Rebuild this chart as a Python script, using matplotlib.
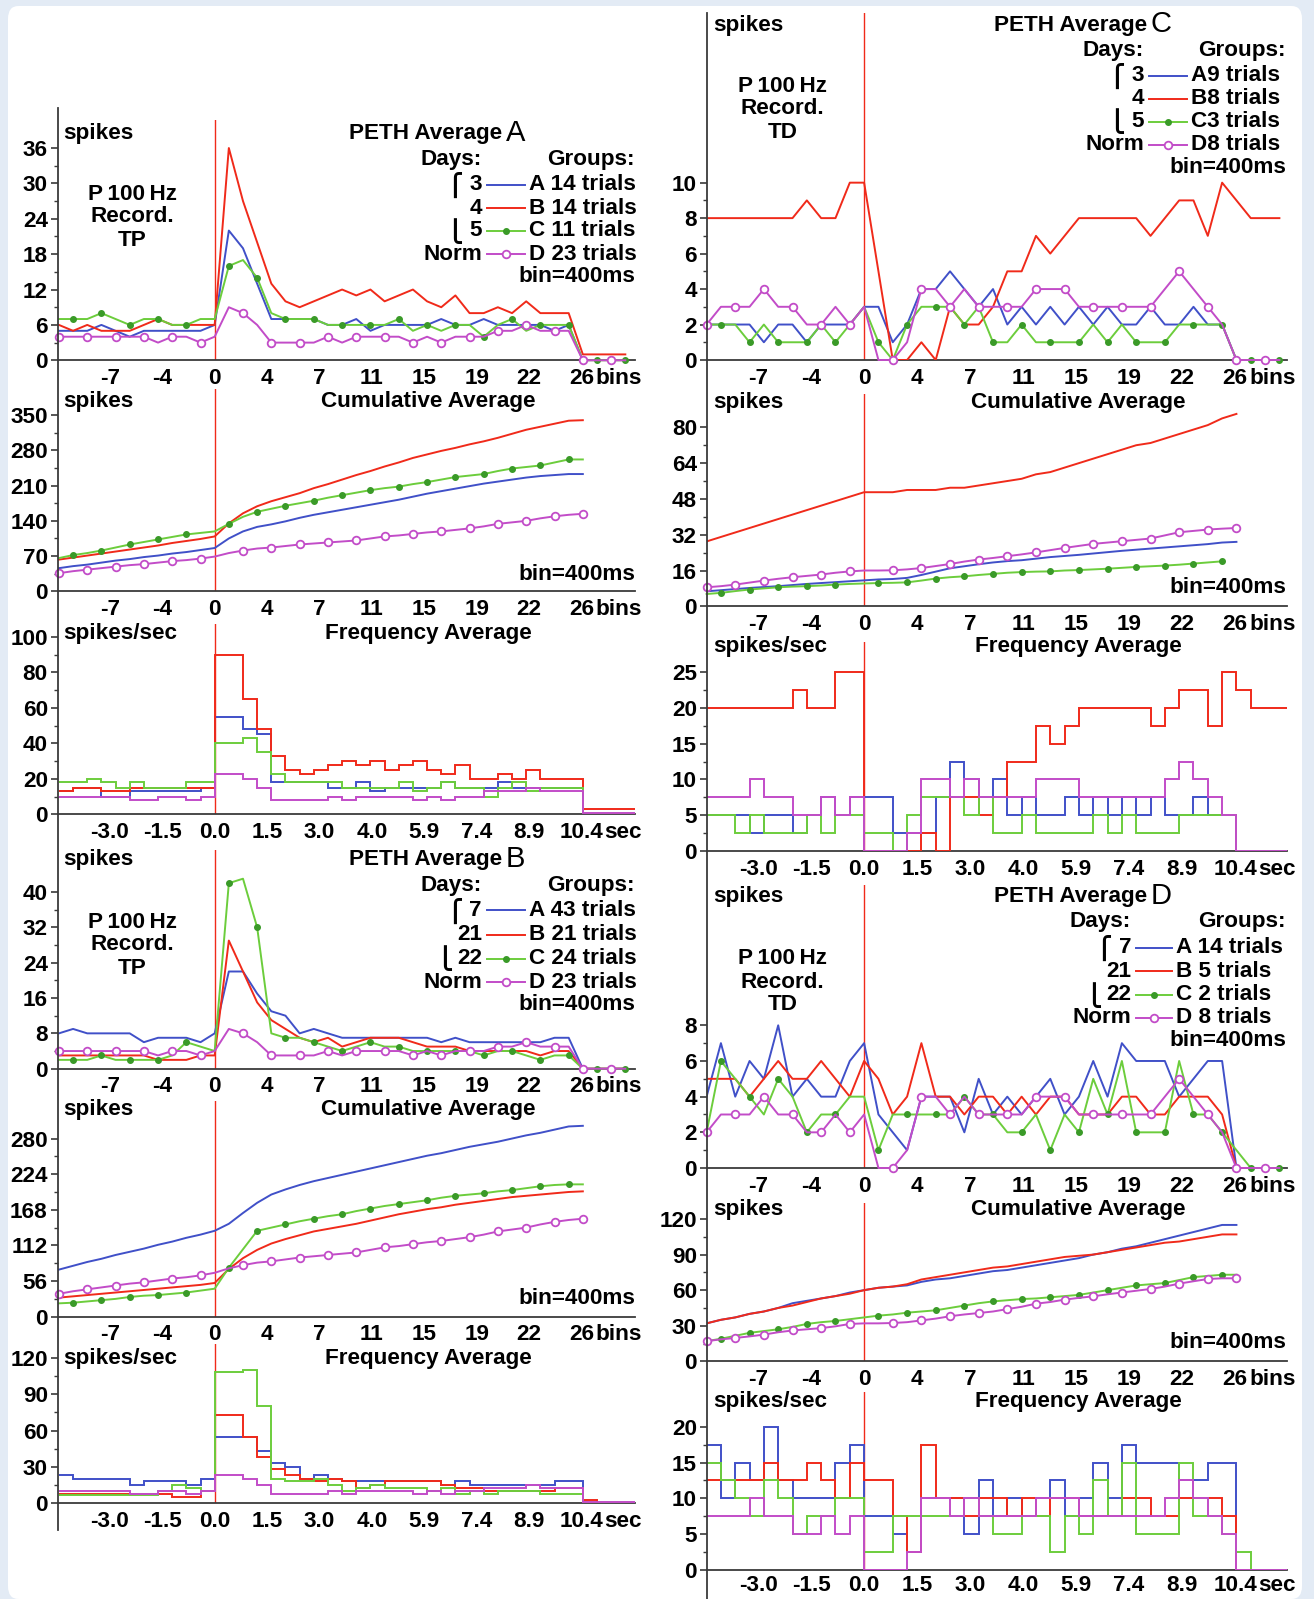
import numpy as np
import matplotlib
matplotlib.use("Agg")
import matplotlib.pyplot as plt
from matplotlib.lines import Line2D
from matplotlib.patches import FancyBboxPatch

W, H = 1314, 1599
plt.rcParams['font.family'] = ['Liberation Sans', 'DejaVu Sans']
plt.rcParams['font.weight'] = 'bold'
plt.rcParams['font.size'] = 16.2

BLUE, RED, GREEN, MAG = '#4050c8', '#f02a1a', '#6ccd3c', '#c24cc8'
GREEN_DOT = '#3a9a28'
AXC = '#3a3a3a'
LW = 1.4

# ---------------- data ----------------
peth_bins = np.arange(-11, 30)     # 41 bins of 400 ms
cum_bins = np.arange(-11, 27)
freq_edges = np.arange(-11, 31)

tick_pos = [-7.4, -3.7, 0, 3.7, 7.4, 11.1, 14.8, 18.5, 22.2, 25.9]
bin_labels = ['-7', '-4', '0', '4', '7', '11', '15', '19', '22', '26']
sec_labels = ['-3.0', '-1.5', '0.0', '1.5', '3.0', '4.0', '5.9', '7.4', '8.9', '10.4']

# PETH A
a_peth_blue = [5, 5, 5, 6, 5, 4, 5, 5, 5, 5, 5, 6, 22, 19, 13, 7, 7, 7, 7, 6, 6, 7, 5, 6, 6, 6, 6, 7, 6, 6, 7, 6, 6, 6, 6, 5, 6, 0, 0, 0, 0]
a_peth_red = [6, 5, 6, 5, 5, 5, 6, 7, 6, 6, 6, 6, 36, 27, 20, 13, 10, 9, 10, 11, 12, 11, 12, 10, 11, 12, 10, 9, 11, 8, 8, 9, 8, 10, 8, 8, 8, 1, 1, 1, 1]
a_peth_green = [7, 7, 7, 8, 7, 6, 7, 7, 6, 6, 7, 7, 16, 17, 14, 8, 7, 7, 7, 6, 6, 6, 6, 6, 7, 5, 6, 5, 6, 6, 4, 6, 7, 5, 6, 6, 6, 0, 0, 0, 0]
ab_peth_norm = [4, 4, 4, 4, 4, 4, 4, 3, 4, 4, 3, 4, 9, 8, 6, 3, 3, 3, 3, 4, 3, 4, 4, 4, 4, 3, 4, 3, 4, 4, 4, 5, 5, 6, 5, 5, 5, 0, 0, 0, 0]
# PETH B
b_peth_blue = [8, 9, 8, 8, 8, 8, 6, 7, 7, 7, 6, 8, 22, 22, 17, 13, 12, 8, 9, 8, 7, 7, 7, 7, 7, 7, 7, 6, 7, 6, 6, 6, 6, 6, 6, 7, 7, 0, 0, 0, 0]
b_peth_red = [3, 3, 3, 3, 3, 3, 3, 2, 2, 2, 3, 3, 29, 22, 15, 11, 9, 7, 6, 7, 5, 6, 7, 7, 7, 6, 5, 5, 5, 4, 4, 4, 4, 4, 3, 4, 4, 0, 0, 0, 0]
b_peth_green = [2, 2, 2, 3, 2, 2, 2, 2, 3, 6, 5, 4, 42, 43, 32, 8, 7, 7, 6, 5, 4, 5, 6, 5, 5, 4, 4, 4, 4, 4, 3, 4, 4, 3, 2, 3, 3, 0, 0, 0, 0]
# PETH C
c_peth_blue = [2, 2, 2, 2, 1, 2, 2, 1, 2, 2, 2, 3, 3, 1, 2, 4, 4, 5, 4, 3, 4, 2, 3, 2, 3, 2, 3, 2, 3, 2, 2, 3, 2, 2, 3, 2, 2, 0, 0, 0, 0]
c_peth_red = [8, 8, 8, 8, 8, 8, 8, 9, 8, 8, 10, 10, 5, 0, 0, 1, 0, 3, 2, 2, 3, 5, 5, 7, 6, 7, 8, 8, 8, 8, 8, 7, 8, 9, 9, 7, 10, 9, 8, 8, 8]
c_peth_green = [2, 2, 2, 1, 2, 1, 1, 1, 2, 1, 2, 3, 1, 0, 2, 3, 3, 3, 2, 3, 1, 1, 2, 1, 1, 1, 1, 2, 1, 2, 1, 1, 1, 2, 2, 2, 2, 0, 0, 0, 0]
cd_peth_norm = [2, 3, 3, 3, 4, 3, 3, 2, 2, 3, 2, 3, 0, 0, 1, 4, 4, 3, 4, 3, 3, 3, 3, 4, 4, 4, 3, 3, 3, 3, 3, 3, 4, 5, 4, 3, 2, 0, 0, 0, 0]
# PETH D
d_peth_blue = [4, 7, 4, 6, 5, 8, 4, 5, 4, 4, 6, 7, 3, 2, 1, 4, 4, 4, 2, 5, 3, 4, 3, 4, 5, 3, 4, 6, 4, 7, 6, 6, 6, 4, 5, 6, 6, 0, 0, 0, 0]
d_peth_red = [5, 5, 5, 4, 5, 6, 5, 5, 6, 5, 4, 6, 5, 3, 4, 7, 4, 4, 3, 4, 4, 3, 4, 3, 4, 4, 3, 3, 3, 4, 4, 3, 3, 4, 4, 4, 3, 0, 0, 0, 0]
d_peth_green = [2, 6, 5, 4, 3, 5, 4, 2, 3, 3, 4, 4, 1, 3, 3, 3, 3, 3, 4, 3, 3, 2, 2, 3, 1, 3, 2, 5, 3, 6, 2, 2, 2, 6, 3, 3, 2, 1, 0, 0, 0]

# Cumulative A
a_cum_blue = [46, 50, 53, 57, 61, 64, 68, 71, 75, 78, 82, 86, 105, 119, 128, 133, 139, 146, 152, 157, 162, 167, 172, 177, 182, 188, 194, 199, 204, 209, 214, 218, 222, 226, 229, 231, 233, 233]
a_cum_red = [63, 67, 71, 75, 79, 83, 87, 91, 96, 100, 104, 109, 135, 155, 169, 179, 187, 195, 205, 213, 222, 231, 239, 248, 256, 265, 272, 279, 285, 292, 298, 305, 313, 321, 327, 333, 339, 340]
a_cum_green = [66, 72, 76, 81, 87, 93, 98, 103, 108, 113, 116, 119, 134, 148, 158, 164, 170, 175, 180, 186, 191, 196, 201, 205, 208, 213, 217, 222, 227, 230, 233, 239, 244, 247, 250, 256, 262, 262]
ab_cum_norm = [36, 40, 43, 46, 49, 52, 54, 57, 60, 62, 65, 69, 76, 81, 85, 87, 90, 93, 95, 97, 99, 101, 105, 109, 111, 114, 117, 119, 122, 125, 129, 134, 137, 140, 145, 149, 152, 154]
# Cumulative B
b_cum_blue = [74, 80, 86, 91, 97, 102, 107, 113, 118, 124, 129, 135, 146, 163, 179, 192, 200, 207, 213, 218, 223, 228, 233, 238, 243, 248, 253, 257, 262, 267, 271, 275, 280, 285, 289, 294, 299, 300]
b_cum_red = [30, 32, 34, 36, 38, 40, 42, 44, 46, 48, 50, 53, 75, 92, 105, 115, 122, 128, 134, 138, 142, 146, 151, 156, 161, 165, 169, 172, 176, 179, 182, 185, 188, 190, 192, 194, 196, 197]
b_cum_green = [21, 22, 24, 26, 28, 31, 33, 34, 36, 38, 41, 44, 77, 106, 135, 140, 145, 150, 154, 158, 161, 166, 170, 174, 177, 180, 183, 187, 190, 192, 194, 197, 199, 202, 205, 207, 208, 208]
# Cumulative C
c_cum_blue = [6.7, 7.2, 7.7, 8.2, 8.6, 9.0, 9.5, 10, 10.4, 10.8, 11.2, 11.6, 12, 12.2, 12.7, 14, 15.5, 17, 17.9, 18.8, 19.6, 20.2, 20.6, 21.3, 22, 22.5, 23, 23.6, 24.2, 24.8, 25.3, 25.8, 26.3, 26.8, 27.3, 27.8, 28.5, 28.8]
c_cum_red = [29, 31, 33, 35, 37, 39, 41, 43, 45, 47, 49, 51, 51, 51, 52, 52, 52, 53, 53, 54, 55, 56, 57, 59, 60, 62, 64, 66, 68, 70, 72, 73, 75, 77, 79, 81, 84, 86]
c_cum_green = [5.5, 6, 6.8, 7.5, 8, 8.5, 8.8, 9, 9.3, 9.7, 10, 10.2, 10.4, 10.5, 10.7, 11.5, 12.4, 13, 13.4, 14, 14.5, 15, 15.3, 15.5, 15.6, 16, 16.2, 16.5, 16.8, 17.2, 17.6, 17.9, 18.2, 18.6, 19.1, 19.6, 20.1]
c_cum_norm = [8.5, 9, 9.7, 10.6, 11.5, 12.3, 13, 13.6, 14.2, 15, 15.6, 16, 16, 16.1, 16.5, 17.1, 18, 18.9, 20, 20.9, 21.6, 22.4, 23.2, 24.1, 25.1, 26.1, 27, 27.9, 28.5, 29.1, 29.7, 30.3, 31.7, 33.1, 33.7, 34.3, 34.7, 35]
# Cumulative D
d_cum_blue = [32, 35, 37, 40, 42, 45, 49, 51, 53, 55, 58, 60, 62, 63, 64, 67, 69, 70, 72, 74, 76, 77, 79, 81, 83, 85, 87, 90, 92, 95, 97, 100, 103, 106, 109, 112, 115, 115]
d_cum_red = [32, 35, 37, 40, 42, 45, 47, 50, 53, 55, 57, 60, 62, 63, 65, 69, 71, 73, 75, 77, 79, 80, 82, 84, 86, 88, 89, 90, 92, 94, 96, 98, 100, 101, 103, 105, 107, 107]
d_cum_green = [17, 19, 21.5, 24, 25.5, 27, 29, 31.5, 33, 34, 35.5, 37, 38.5, 39.5, 41, 42, 43, 45, 47, 49, 50.5, 51.5, 52.5, 53, 54, 55, 56, 58, 60, 62, 64, 65, 66, 68.5, 71, 72, 73, 73]
d_cum_norm = [17, 18.5, 19.7, 21, 22.5, 24.5, 26, 27, 28, 29.5, 31.5, 32, 32, 32.3, 33, 34.5, 36, 38, 39.5, 40.7, 42, 44, 46, 48.6, 50, 52, 53.5, 54.8, 56.5, 58, 59.5, 61, 63, 65.5, 67.5, 69.4, 70, 70]

# Frequency A (spikes/sec per 400 ms step)
a_freq_blue = [13, 15, 15, 10, 10, 13, 13, 13, 13, 13, 15, 55, 55, 48, 45, 18, 18, 18, 18, 15, 15, 18, 13, 15, 15, 15, 15, 18, 15, 15, 15, 18, 15, 15, 15, 15, 15, 0, 0, 0, 0]
a_freq_red = [13, 15, 15, 13, 13, 15, 15, 15, 15, 15, 15, 90, 90, 65, 48, 33, 25, 23, 25, 28, 30, 28, 30, 25, 28, 30, 25, 23, 28, 20, 20, 23, 20, 25, 20, 20, 20, 3, 3, 3, 3]
a_freq_green = [18, 18, 20, 18, 15, 18, 15, 15, 15, 18, 18, 40, 40, 43, 35, 23, 18, 18, 18, 18, 15, 15, 15, 15, 18, 13, 15, 18, 15, 15, 10, 15, 18, 13, 15, 15, 15, 0, 0, 0, 0]
ab_freq_norm = [10, 10, 10, 10, 10, 8, 8, 10, 10, 8, 10, 23, 23, 20, 15, 8, 8, 8, 8, 10, 8, 10, 10, 10, 10, 8, 10, 8, 10, 10, 13, 13, 13, 15, 13, 13, 13, 1, 1, 1, 1]
# Frequency B
b_freq_blue = [23, 20, 20, 20, 20, 15, 18, 18, 18, 15, 20, 55, 55, 55, 43, 33, 30, 20, 23, 20, 18, 18, 18, 18, 18, 18, 18, 15, 18, 15, 15, 15, 15, 15, 15, 18, 18, 0, 0, 0, 0]
b_freq_red = [8, 8, 8, 8, 8, 8, 8, 8, 5, 5, 10, 73, 73, 55, 38, 28, 23, 20, 18, 20, 18, 13, 15, 18, 18, 18, 18, 15, 13, 13, 10, 10, 10, 10, 10, 13, 13, 3, 0, 0, 0]
b_freq_green = [7, 7, 7, 7, 7, 7, 7, 10, 15, 13, 10, 108, 108, 110, 80, 20, 18, 18, 20, 15, 10, 13, 15, 13, 13, 13, 10, 13, 8, 10, 8, 10, 10, 10, 8, 8, 8, 0, 0, 0, 0]
# Frequency C
c_freq_blue = [5, 5, 5, 2.5, 5, 5, 2.5, 5, 7.5, 5, 7.5, 7.5, 7.5, 2.5, 2.5, 2.5, 7.5, 12.5, 10, 7.5, 10, 5, 7.5, 5, 5, 7.5, 5, 7.5, 5, 7.5, 5, 7.5, 5, 5, 7.5, 5, 5, 0, 0, 0, 0]
c_freq_red = [20, 20, 20, 20, 20, 20, 22.5, 20, 20, 25, 25, 0, 0, 0, 0, 2.5, 0, 7.5, 7.5, 5, 7.5, 12.5, 12.5, 17.5, 15, 17.5, 20, 20, 20, 20, 20, 17.5, 20, 22.5, 22.5, 17.5, 25, 22.5, 20, 20, 20]
c_freq_green = [5, 5, 2.5, 5, 2.5, 2.5, 2.5, 5, 2.5, 5, 5, 2.5, 2.5, 0, 5, 7.5, 7.5, 7.5, 5, 7.5, 2.5, 2.5, 5, 2.5, 2.5, 2.5, 2.5, 5, 2.5, 5, 2.5, 2.5, 2.5, 5, 5, 5, 5, 0, 0, 0, 0]
cd_freq_norm = [7.5, 7.5, 7.5, 10, 7.5, 7.5, 5, 5, 7.5, 5, 7.5, 0, 0, 0, 2.5, 10, 10, 7.5, 10, 7.5, 7.5, 7.5, 7.5, 10, 10, 10, 7.5, 7.5, 7.5, 7.5, 7.5, 7.5, 10, 12.5, 10, 7.5, 5, 0, 0, 0, 0]
# Frequency D
d_freq_blue = [17.5, 10, 15, 12.5, 20, 12.5, 10, 10, 10, 15, 17.5, 7.5, 7.5, 5, 2.5, 10, 10, 10, 5, 12.5, 7.5, 10, 7.5, 10, 12.5, 7.5, 10, 15, 10, 17.5, 15, 15, 15, 12.5, 12.5, 15, 15, 0, 0, 0, 0]
d_freq_red = [12.5, 12.5, 12.5, 12.5, 15, 12.5, 12.5, 15, 12.5, 10, 15, 12.5, 12.5, 7.5, 2.5, 17.5, 10, 10, 7.5, 10, 10, 7.5, 10, 7.5, 10, 10, 7.5, 7.5, 7.5, 10, 10, 7.5, 7.5, 10, 10, 10, 7.5, 0, 0, 0, 0]
d_freq_green = [15, 12.5, 10, 7.5, 12.5, 10, 5, 7.5, 7.5, 10, 10, 2.5, 2.5, 7.5, 7.5, 7.5, 7.5, 7.5, 10, 7.5, 5, 5, 7.5, 7.5, 2.5, 7.5, 5, 12.5, 7.5, 15, 5, 5, 5, 15, 7.5, 7.5, 5, 2.5, 0, 0, 0]

# ---------------- figure ----------------
fig = plt.figure(figsize=(W / 100, H / 100), dpi=100, facecolor='#e3ebf5')


def fx(x):
    return x / W


def fy(y):
    return 1 - y / H


fig.add_artist(FancyBboxPatch((fx(8), fy(1599)), fx(1294), 1593 / H,
                              boxstyle='round,pad=0,rounding_size=0.008',
                              transform=fig.transFigure, fc='white', ec='none', zorder=-5))

COLS = {0: dict(left=57.5, xlim=(-11.1, 29.7), unit=14.16, line=(108, 1530)),
        1: dict(left=706.6, xlim=(-11.0, 29.5), unit=14.32, line=(13, 1599))}


def make_ax(col, y0, ytop, top, step, nticks, labels, unit_word, pad=5.5):
    c = COLS[col]
    width = (c['xlim'][1] - c['xlim'][0]) * c['unit']
    ax = fig.add_axes([fx(c['left']), fy(y0), width / W, (y0 - ytop) / H])
    ax.set_xlim(*c['xlim'])
    ax.set_ylim(0, top)
    ax.patch.set_alpha(0)
    for s in ('top', 'right', 'left'):
        ax.spines[s].set_visible(False)
    ax.spines['bottom'].set_color(AXC)
    ax.spines['bottom'].set_linewidth(1.3)
    ax.set_yticks(np.arange(0, step * nticks + 0.01, step))
    ax.set_yticks(np.arange(step / 2, step * nticks, step), minor=True)
    ax.tick_params(axis='y', which='major', length=5, width=1.2, pad=2, color=AXC)
    ax.tick_params(axis='y', which='minor', length=3, width=1.0, color=AXC)
    ax.set_xticks(tick_pos)
    ax.set_xticklabels(labels)
    ax.tick_params(axis='x', length=0, pad=pad)
    ax.annotate(unit_word, xy=(26.9 if unit_word == 'bins' else 27.5, 0),
                xycoords=('data', 'axes fraction'), xytext=(0, -pad),
                textcoords='offset points', ha='left', va='top', annotation_clip=False)
    ax.axvline(0, color=RED, lw=1.0, zorder=1)
    return ax


def green_marks(x):
    return [i for i, b in enumerate(x) if (b < 0 and b % 2 == 0) or (b > 0 and b % 2 == 1)]


def norm_marks(x):
    return [i for i, b in enumerate(x) if (b < 0 and b % 2 == 1) or (b > 0 and b % 2 == 0)]


def draw_lines(ax, xs, blue, red, green, norm):
    ax.plot(xs[:len(blue)], blue, color=BLUE, lw=LW, zorder=3)
    ax.plot(xs[:len(red)], red, color=RED, lw=LW, zorder=3)
    gx = xs[:len(green)]
    ax.plot(gx, green, color=GREEN, lw=LW, marker='o', ms=4, mfc=GREEN_DOT, mec=GREEN_DOT,
            markevery=green_marks(gx), zorder=4, clip_on=False)
    mx = xs[:len(norm)]
    ax.plot(mx, norm, color=MAG, lw=LW, marker='o', ms=5.5, mfc='white', mec=MAG, mew=1.3,
            markevery=norm_marks(mx), zorder=5, clip_on=False)


def draw_steps(ax, blue, red, green, norm):
    for vals, col in ((blue, BLUE), (red, RED), (green, GREEN), (norm, MAG)):
        ax.stairs(vals, freq_edges, baseline=None, color=col, lw=LW, zorder=3)


def ftext(x, y, s, **kw):
    kw.setdefault('va', 'center')
    fig.text(fx(x), fy(y), s, **kw)


panels = [
    dict(col=0, letter='A', x0=0,
         peth=(360.3, 120.3, 40.7, 6, 6), cum=(591.3, 389, 402, 70, 5), freq=(814.3, 624, 107.3, 20, 5),
         peth_data=(a_peth_blue, a_peth_red, a_peth_green, ab_peth_norm),
         cum_data=(a_cum_blue, a_cum_red, a_cum_green, ab_cum_norm),
         freq_data=(a_freq_blue, a_freq_red, a_freq_green, ab_freq_norm),
         title_y=134, days_y=159.3, rows=[185, 208, 231, 254], bin_y=276, p100=[194, 217, 241],
         cum_y=402, cum_bin_y=574, freq_y=634, freq_pad=5.5,
         num_right=482, line=(487, 525), grp_left=529, right=635, title_r=502,
         days=['3', '4', '5', 'Norm'], groups=['A 14 trials', 'B 14 trials', 'C 11 trials', 'D 23 trials'],
         rec='TP'),
    dict(col=0, letter='B', x0=0,
         peth=(1068.7, 850, 49.5, 8, 5), cum=(1316.7, 1101, 339, 56, 5), freq=(1503.3, 1344, 131.3, 30, 4),
         peth_data=(b_peth_blue, b_peth_red, b_peth_green, ab_peth_norm),
         cum_data=(b_cum_blue, b_cum_red, b_cum_green, ab_cum_norm),
         freq_data=(b_freq_blue, b_freq_red, b_freq_green, ab_freq_norm),
         title_y=860, days_y=886, rows=[910.5, 935, 958.5, 982], bin_y=1004, p100=[922.5, 945, 968.5],
         cum_y=1109, cum_bin_y=1298, freq_y=1358.5, freq_pad=5.5,
         num_right=482, line=(487, 525), grp_left=529, right=635, title_r=502,
         days=['7', '21', '22', 'Norm'], groups=['A 43 trials', 'B 21 trials', 'C 24 trials', 'D 23 trials'],
         rec='TP'),
    dict(col=1, letter='C', x0=650,
         peth=(360, 13.3, 19.55, 2, 5), cum=(606.3, 394, 94.9, 16, 5), freq=(851, 642, 29.2, 5, 5),
         peth_data=(c_peth_blue, c_peth_red, c_peth_green, cd_peth_norm),
         cum_data=(c_cum_blue, c_cum_red, c_cum_green, c_cum_norm),
         freq_data=(c_freq_blue, c_freq_red, c_freq_green, cd_freq_norm),
         title_y=25, days_y=50.5, rows=[75.5, 99, 121.5, 145], bin_y=167.5, p100=[86.6, 109, 132.5],
         cum_y=402.5, cum_bin_y=588, freq_y=647, freq_pad=5.5,
         num_right=1144, line=(1149, 1187), grp_left=1191, right=1286, title_r=1147,
         days=['3', '4', '5', 'Norm'], groups=['A9 trials', 'B8 trials', 'C3 trials', 'D8 trials'],
         rec='TD'),
    dict(col=1, letter='D', x0=650,
         peth=(1168, 885.3, 15.85, 2, 4), cum=(1361.3, 1203, 133.5, 30, 4), freq=(1569.7, 1392, 24.9, 5, 4),
         peth_data=(d_peth_blue, d_peth_red, d_peth_green, cd_peth_norm),
         cum_data=(d_cum_blue, d_cum_red, d_cum_green, d_cum_norm),
         freq_data=(d_freq_blue, d_freq_red, d_freq_green, cd_freq_norm),
         title_y=896.5, days_y=922, rows=[948, 971.5, 995, 1017.5], bin_y=1040, p100=[958.5, 982, 1005],
         cum_y=1209, cum_bin_y=1342.5, freq_y=1402, freq_pad=3.5,
         num_right=1131, line=(1136, 1172), grp_left=1176, right=1286, title_r=1147,
         days=['7', '21', '22', 'Norm'], groups=['A 14 trials', 'B 5 trials', 'C 2 trials', 'D 8 trials'],
         rec='TD'),
]

for p in panels:
    col, x0 = p['col'], p['x0']
    y0, yt, top, st, n = p['peth']
    ax = make_ax(col, y0, yt, top, st, n, bin_labels, 'bins')
    draw_lines(ax, peth_bins, *p['peth_data'])
    y0, yt, top, st, n = p['cum']
    ax = make_ax(col, y0, yt, top, st, n, bin_labels, 'bins')
    draw_lines(ax, cum_bins, *p['cum_data'])
    y0, yt, top, st, n = p['freq']
    ax = make_ax(col, y0, yt, top, st, n, sec_labels, 'sec', pad=p['freq_pad'])
    draw_steps(ax, *p['freq_data'])

    # headers inside the panels
    ftext(63 + x0, p['title_y'], 'spikes', ha='left')
    ftext(p['title_r'], p['title_y'], 'PETH Average', ha='right')
    ftext(p['title_r'] + 4, p['title_y'] - 1, p['letter'], ha='left', fontsize=21, fontweight='normal')
    ftext(63 + x0, p['cum_y'], 'spikes', ha='left')
    ftext(428 + x0, p['cum_y'], 'Cumulative Average', ha='center')
    ftext(p['right'], p['cum_bin_y'], 'bin=400ms', ha='right')
    ftext(63 + x0, p['freq_y'], 'spikes/sec', ha='left')
    ftext(428 + x0, p['freq_y'], 'Frequency Average', ha='center')
    for yy, s in zip(p['p100'], ['P\u2009100\u2009Hz', 'Record.', p['rec']]):
        ftext(132.5 + x0, yy, s, ha='center')

    # legend block
    ftext(p['num_right'], p['days_y'], 'Days:', ha='right')
    ftext(p['right'], p['days_y'], 'Groups:', ha='right')
    for i, (d, g, c) in enumerate(zip(p['days'], p['groups'], (BLUE, RED, GREEN, MAG))):
        yy = p['rows'][i]
        ftext(p['num_right'], yy, d, ha='right')
        ftext(p['grp_left'], yy, g, ha='left')
        l, r = p['line']
        fig.add_artist(Line2D([fx(l), fx(r)], [fy(yy), fy(yy)], transform=fig.transFigure, color=c, lw=LW))
        if c == GREEN:
            fig.add_artist(Line2D([fx((l + r) / 2)], [fy(yy)], transform=fig.transFigure, marker='o',
                                  ms=4, mfc=GREEN_DOT, mec=GREEN_DOT))
        if c == MAG:
            fig.add_artist(Line2D([fx((l + r) / 2)], [fy(yy)], transform=fig.transFigure, marker='o',
                                  ms=5.5, mfc='white', mec=MAG, mew=1.3))
    ftext(p['num_right'] - 27, p['rows'][0], '\u23a7', ha='center')
    ftext(p['num_right'] - 27 - (10 if len(p['days'][2]) > 1 else 0), p['rows'][2], '\u23a9', ha='center')
    ftext(p['right'], p['bin_y'], 'bin=400ms', ha='right')

# continuous left axis line of each column
for c in COLS.values():
    y_a, y_b = c['line']
    fig.add_artist(Line2D([fx(c['left'])] * 2, [fy(y_a), fy(y_b)], transform=fig.transFigure,
                          color=AXC, lw=1.3))

fig.savefig('out.png', dpi=100, facecolor=fig.get_facecolor())
